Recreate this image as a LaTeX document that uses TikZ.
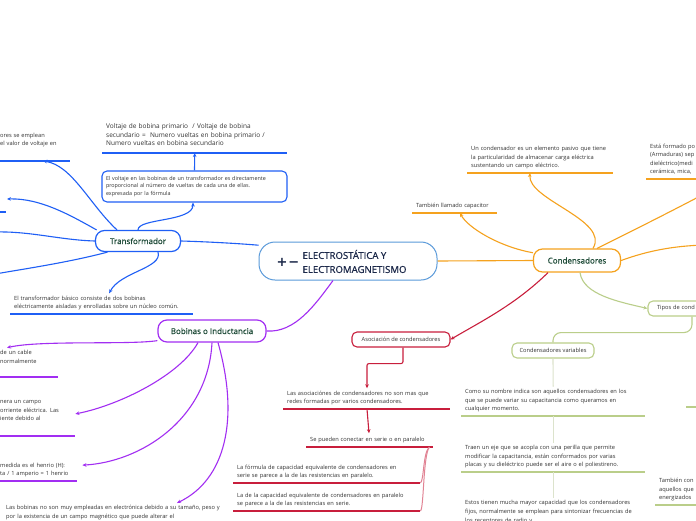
\documentclass[tikz,border=0pt]{standalone}
\usepackage{fontspec}
\setmainfont{Open Sans}
\newfontfamily\titlefont{Open Sans}[FakeBold=0.7]
\newfontfamily\signfont{DejaVu Sans}
\usetikzlibrary{arrows.meta}

\definecolor{mapblue}{HTML}{1F5FF5}
\definecolor{mappurple}{HTML}{A22EF2}
\definecolor{maporange}{HTML}{F5A21E}
\definecolor{mapred}{HTML}{C81E3C}
\definecolor{mapgreen}{HTML}{BACE8A}
\definecolor{mapgrey}{HTML}{DCE3CC}
\definecolor{rootblue}{HTML}{5A9ADA}
\definecolor{titlegreen}{HTML}{1E4B38}
\definecolor{rootnavy}{HTML}{1B2849}
\definecolor{txt}{HTML}{333333}

\newcommand\leaffont{\fontsize{5.7}{8.6}\selectfont}
\newcommand\boxfont{\fontsize{5.4}{7.6}\selectfont}
\newcommand\formfont{\fontsize{6.5}{8.7}\selectfont}
\newcommand\topicfont{\titlefont\fontsize{8}{10}\selectfont}

\tikzset{
  root/.style={draw=rootblue, line width=1pt, fill=white, rounded corners=16pt,
    minimum width=178pt, minimum height=38pt},
  topic/.style={draw=#1, line width=1.2pt, fill=white, rounded corners=9pt,
    inner sep=0pt, font=\topicfont, text=titlegreen},
  sub/.style={draw=#1, line width=1.1pt, fill=white, rounded corners=5pt,
    inner sep=0pt, font=\leaffont, text=txt},
  leaf/.style={anchor=south west, align=left, inner xsep=4pt, inner ysep=2.4pt,
    font=\leaffont, text=txt, execute at end node=\strut},
  link/.style={draw=#1, line width=1.1pt},
  pointer/.style={-{Stealth[length=4pt,width=3.6pt]}},
  uline/.style={draw=#1, line width=1.4pt},
}

\begin{document}
\begin{tikzpicture}[x=1pt,y=-1pt]
\useasboundingbox (0,0) rectangle (696,520);
\fill[white] (0,0) rectangle (696,520);

% main topic and first level
\node[root] (elec) at (348,261) {};
\node[font=\signfont\bfseries\fontsize{13}{13}\selectfont, text=rootnavy] (sign) at (288,262) {+\kern1pt−};
\node[anchor=west, align=left, font=\titlefont\fontsize{9.6}{14}\selectfont, text=rootnavy] (etitle) at (299,261.5) {ELECTROSTÁTICA Y\\ELECTROMAGNETISMO};

\node[topic=mapblue, minimum width=85pt, minimum height=21pt] (trans) at (138,241) {Transformador};
\node[topic=mappurple, minimum width=108pt, minimum height=22pt] (bob) at (212,331) {Bobinas o Inductancia};
\node[topic=maporange, minimum width=87pt, minimum height=23pt] (cond) at (577,260.5) {Condensadores};

% transformador
\node[sub=mapblue, text width=177pt, align=left, inner xsep=4pt, font=\boxfont, minimum height=31pt] (vbox) at (194.5,186.5)
  {El voltaje en las bobinas de un transformador es directamente\\proporcional al número de vueltas de cada una de ellas.\\expresada por la fórmula};
\node[leaf, font=\formfont, inner ysep=4.2pt, text width=177pt] (vtform) at (102,153)
  {Voltaje de bobina primario\ \ / Voltaje de bobina\\secundario =\ \ Numero vueltas en bobina primario /\\Numero vueltas en bobina secundario};
\node[leaf, text width=66pt] (tsuse) at (-4,161) {ores se emplean\\el valor de voltaje en\\[1.5pt]\mbox{}};
\node[leaf, text width=175pt] (tsbasic) at (10,314)
  {El transformador básico consiste de dos bobinas\\eléctricamente aisladas y enrolladas sobre un núcleo común.};
\coordinate (tsleft) at (7,199);
\coordinate (tsoff1) at (-5,232);
\coordinate (tsoff2) at (-5,274);

% bobinas
\node[leaf, text width=54pt] (bb1) at (-4,377) {de un cable\\normalmente\\\mbox{}};
\node[leaf, text width=71pt] (bb2) at (-4,436) {nera un campo\\orriente eléctrica. Las\\iente debido al\\[1.5pt]\mbox{}};
\node[leaf, text width=78pt] (bb3) at (-4,481) {medida es el henrio (H):\\ta / 1 amperio = 1 henrio};
\node[leaf, anchor=north west, text width=240pt] (bb4) at (2,503)
  {Las bobinas no son muy empleadas en electrónica debido a su tamaño, peso y\\por la existencia de un campo magnético que puede alterar el};

% condensadores
\node[leaf, text width=77pt] (tcap) at (412,213) {También llamado capacitor};
\node[leaf, text width=138pt] (tdef) at (467,173)
  {Un condensador es un elemento pasivo que tiene\\la particularidad de almacenar carga eléctrica\\sustentando un campo eléctrico.};
\node[leaf, text width=60pt] (tform) at (646,179) {Está formado po\\(Armaduras) sep\\dieléctrico(medi\\cerámica, mica,};
\coordinate (cfree1) at (704,194);
\coordinate (cfree2) at (704,245);

\node[sub=mapred, minimum width=98pt, minimum height=15pt] (asoc) at (401,339.5) {Asociación de condensadores};
\node[leaf, text width=159pt] (tasoc) at (283,409)
  {Las asociaciónes de condensadores no son mas que\\redes formadas por varios condensadores.};
\node[leaf, text width=119pt] (tseries) at (306,447) {Se pueden conectar en serie o en paralelo};
\node[leaf, text width=179pt] (tser1) at (233,483)
  {La fórmula de capacidad equivalente de condensadores en\\serie se parece a la de las resistencias en paralelo.};
\node[leaf, text width=179pt] (tser2) at (233,511)
  {La de la capacidad equivalente de condensadores en paralelo\\se parece a la de las resistencias en serie.};

\node[sub=mapgreen, text width=70pt, align=left, inner xsep=9pt, minimum height=15pt] (tipos) at (692,308.5) {Tipos de cond};
\node[sub=mapgreen, minimum width=82pt, minimum height=15pt] (cvar) at (553,350.5) {Condensadores variables};
\node[leaf, text width=176pt] (tvar1) at (461,416)
  {Como su nombre indica son aquellos condensadores en los\\que se puede variar su capacitancia como queramos en\\cualquier momento.};
\node[leaf, text width=176pt] (tvar2) at (461,472)
  {Traen un eje que se acopla con una perilla que permite\\modificar la capacitancia, están conformados por varias\\placas y su dieléctrico puede ser el aire o el poliestireno.};
\node[leaf, anchor=north west, text width=176pt] (tvar3) at (461,498)
  {Estos tienen mucha mayor capacidad que los condensadores\\fijos, normalmente se emplean para sintonizar frecuencias de\\los receptores de radio y};
\node[leaf, text width=50pt] (ttam) at (655,505) {También con\\aquellos que\\energizados};

% underlines
\draw[uline=mapblue] (vtform.south west) -- (vtform.south east);
\draw[uline=mapblue] (tsuse.south west) -- (tsuse.south east);
\draw[uline=mapblue] (-2,212) -- (6,212);
\draw[uline=mapblue] (tsbasic.south west) -- (tsbasic.south east);
\draw[uline=mappurple] (bb1.south west) -- (bb1.south east);
\draw[uline=mappurple] (bb2.south west) -- (bb2.south east);
\draw[uline=mappurple] (bb3.south west) -- ([xshift=-5pt]bb3.south east);
\draw[uline=maporange] (tcap.south west) -- (tcap.south east);
\draw[uline=maporange] (tdef.south west) -- (tdef.south east);
\draw[uline=maporange] (tform.south west) -- (tform.south east);
\draw[uline=mapred] (tasoc.south west) -- (tasoc.south east);
\draw[uline=mapred] (tseries.south west) -- (tseries.south east);
\draw[uline=mapred] (tser1.south west) -- (tser1.south east);
\draw[uline=mapred] (tser2.south west) -- (tser2.south east);
\draw[uline=mapgreen] (tvar1.south west) -- (tvar1.south east);
\draw[uline=mapgreen] (tvar2.south west) -- (tvar2.south east);
\draw[uline=mapgreen] (ttam.south west) -- (ttam.south east);
\draw[uline=mapgreen] (686,407) -- (700,407);

% connectors
\draw[link=mapblue] (trans.east) .. controls (215,242) and (245,244) .. (elec.170);
\draw[link=mappurple] ([xshift=-15pt]elec.south) .. controls (315,305) and (295,333) .. (bob.east);
\draw[link=maporange] (elec.east) -- (cond.west);

\draw[link=mapblue, pointer] (trans.north) .. controls (138,218) and (193,222) .. ([xshift=-1.5pt]vbox.south);
\draw[link=mapblue, pointer] (vbox.north) -- (vtform.south);
\draw[link=mapblue, pointer] ([xshift=-21pt]trans.north) .. controls (90,205) and (72,165) .. ([xshift=47pt]tsuse.south west);
\draw[link=mapblue, pointer] (trans.165) .. controls (70,215) and (40,198) .. (tsleft);
\draw[link=mapblue] (trans.west) .. controls (60,240) and (30,231) .. (tsoff1);
\draw[link=mapblue] (trans.200) .. controls (70,262) and (30,268) .. (tsoff2);
\draw[link=mapblue, pointer] ([xshift=20pt]trans.south) .. controls (163,268) and (120,272) .. ([xshift=7.5pt]tsbasic.north);

\draw[link=mappurple, pointer] (bob.190) .. controls (130,345) and (40,340) .. ([xshift=11pt]bb1.north west);
\draw[link=mappurple, pointer] ([xshift=-14pt]bob.south) .. controls (180,375) and (120,405) .. ([yshift=3pt]bb2.east);
\draw[link=mappurple, pointer] (bob.south) .. controls (208,420) and (140,462) .. ([yshift=5.5pt]bb3.east);
\draw[link=mappurple, pointer] ([xshift=6pt]bob.south) .. controls (240,420) and (225,480) .. ([xshift=175pt]bb4.north west);

\draw[link=maporange, pointer] (cond.170) .. controls (500,247) and (468,228) .. ([xshift=48pt]tcap.south west);
\draw[link=maporange, pointer] ([xshift=16pt]cond.north) .. controls (610,220) and (528,200) .. ([xshift=63pt]tdef.south west);
\draw[link=maporange] ([xshift=20pt]cond.north) .. controls (630,232) and (670,212) .. (cfree1);
\draw[link=maporange] (cond.east) .. controls (650,250) and (675,246) .. (cfree2);
\draw[link=mapgreen, pointer] ([xshift=3pt]cond.south) .. controls (583,295) and (620,302) .. (tipos.west);
\draw[link=mapred, pointer] ([xshift=-29pt]cond.south) .. controls (515,305) and (480,322) .. (asoc.east);

\draw[link=mapred, pointer, rounded corners=2pt] ([xshift=2pt]asoc.south) -- ++(0,16) -| ([xshift=84pt]tasoc.north west);
\draw[link=mapred, pointer] ([xshift=84pt]tasoc.south west) -- ([xshift=63pt]tseries.north west);
\draw[draw=mapred!55, line width=1pt] ([xshift=-4pt]tseries.south east) .. controls (423,452) and (424,481) .. (tser1.south east);
\draw[draw=mapred!55, line width=1pt] ([xshift=-4pt]tseries.south east) .. controls (423,455) and (424,509) .. (tser2.south east);

\draw[link=mapgreen, rounded corners=8pt] (tipos.south) -- ++(0,16) -| (cvar.north);
\draw[link=mapgrey] (cvar.south) -- (tvar1.north);
\draw[link=mapgrey] (tvar1.south) -- (tvar2.north);
\draw[link=mapgrey] (tvar2.south) -- (tvar3.north);
\end{tikzpicture}
\end{document}
